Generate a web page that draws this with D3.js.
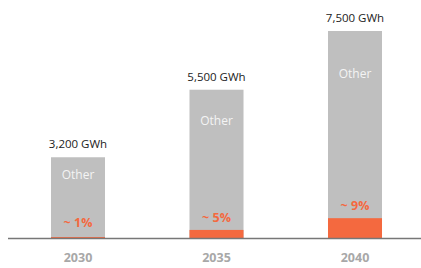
<!DOCTYPE html>
<html>
<head>
<meta charset="utf-8">
<script src="https://cdn.jsdelivr.net/npm/d3@7"></script>
<style>
  body { margin: 0; background: #fff; }
  svg { display: block; font-family: "Open Sans", sans-serif; }
</style>
</head>
<body>
<svg width="421" height="268"></svg>
<script>
// data
const years = ['2030', '2035', '2040']
const totals = [3200, 5500, 7500]          // GWh
const shares = [1, 5, 9]                   // % orange part
const otherLabel = 'Other'

const data = years.map((y, i) => ({year: y, total: totals[i], share: shares[i]}))

const svg = d3.select('svg')
const width = +svg.attr('width')
const height = +svg.attr('height')

const baseY = 238
const yMin = 450

// x scale voor de bars
const xscale = d3.scaleBand()
    .domain(years)
    .range([8.75, 424.25])
    .paddingInner(0.61)
    .paddingOuter(0.305)

const yscale = d3.scaleLinear()
    .domain([yMin, 7500])
    .range([baseY, 31])

const g = svg.append('g')

// grijze bars
g.selectAll('rect.total').data(data)
    .enter()
    .append('rect')
        .attr('class', 'total')
        .attr('x', d => xscale(d.year))
        .attr('y', d => yscale(d.total))
        .attr('width', xscale.bandwidth())
        .attr('height', d => baseY - yscale(d.total))
        .attr('fill', '#bfbfbf')

// oranje deel
const shareTop = d => yscale(yMin + d.total * d.share / 100)
g.selectAll('rect.share').data(data)
    .enter()
    .append('rect')
        .attr('class', 'share')
        .attr('x', d => xscale(d.year))
        .attr('y', shareTop)
        .attr('width', xscale.bandwidth())
        .attr('height', d => baseY - shareTop(d))
        .attr('fill', '#f4693f')

// totaal label
g.selectAll('text.total').data(data)
    .enter()
    .append('text')
        .attr('x', d => xscale(d.year) + xscale.bandwidth() / 2)
        .attr('y', d => yscale(d.total) - 9)
        .attr('text-anchor', 'middle')
        .attr('font-size', 11.5)
        .attr('fill', '#222')
        .text(d => d3.format(',')(d.total) + ' GWh')

// "Other" label
g.selectAll('text.other').data(data)
    .enter()
    .append('text')
        .attr('x', d => xscale(d.year) + xscale.bandwidth() / 2)
        .attr('y', d => yscale(d.total) + 0.2 * (baseY - yscale(d.total)) + 6)
        .attr('text-anchor', 'middle')
        .attr('font-size', 12)
        .attr('fill', '#f4f4f4')
        .text(otherLabel)

// percentage label
g.selectAll('text.share').data(data)
    .enter()
    .append('text')
        .attr('x', d => xscale(d.year) + xscale.bandwidth() / 2)
        .attr('y', d => Math.min(shareTop(d), baseY - 3) - 8)
        .attr('text-anchor', 'middle')
        .attr('font-size', 12.5)
        .attr('font-weight', 'bold')
        .attr('fill', '#f4693f')
        .text(d => '~ ' + d.share + '%')

// x-as
const xAxis = d3.axisBottom(xscale).tickSize(0).tickPadding(15)
const axisG = g.append('g')
    .attr('transform', `translate(0, ${baseY})`)
    .call(xAxis)
axisG.select('.domain')
    .attr('d', `M8,0.5H${width}`)
    .attr('stroke', '#777')
    .attr('stroke-width', 1.5)
axisG.selectAll('text')
    .attr('font-family', '"Open Sans", sans-serif')
    .attr('font-size', 12.5)
    .attr('font-weight', 'bold')
    .attr('fill', '#a8a8a8')
</script>
</body>
</html>
